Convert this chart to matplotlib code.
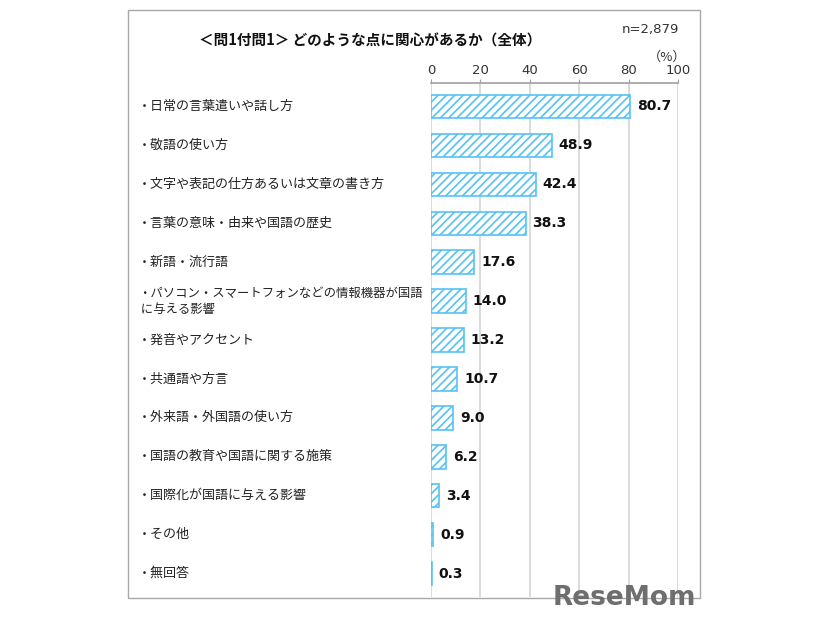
import matplotlib
matplotlib.use('Agg')
import matplotlib.pyplot as plt
import matplotlib.transforms as mtransforms
from matplotlib.patches import Rectangle

plt.rcParams['font.family'] = ['Noto Sans CJK JP', 'DejaVu Sans']
plt.rcParams['hatch.linewidth'] = 1.2

categories = [
    '・日常の言葉遣いや話し方',
    '・敬語の使い方',
    '・文字や表記の仕方あるいは文章の書き方',
    '・言葉の意味・由来や国語の歴史',
    '・新語・流行語',
    '・パソコン・スマートフォンなどの情報機器が国語\n に与える影響',
    '・発音やアクセント',
    '・共通語や方言',
    '・外来語・外国語の使い方',
    '・国語の教育や国語に関する施策',
    '・国際化が国語に与える影響',
    '・その他',
    '・無回答',
]
values = [80.7, 48.9, 42.4, 38.3, 17.6, 14.0, 13.2, 10.7, 9.0, 6.2, 3.4, 0.9, 0.3]
xticks = [0, 20, 40, 60, 80, 100]
title = '＜問1付問1＞ どのような点に関心があるか（全体）'
n_text = 'n=2,879'

BLUE = '#55C3F2'
GRID = '#D4D4D4'

fig = plt.figure(figsize=(8.26, 6.2), dpi=100, facecolor='white')
ax = fig.add_axes([0.5218, 0.0371, 0.299, 0.829])

y = list(range(len(values)))
ax.barh(y, values, height=0.6, color='white', edgecolor=BLUE, hatch='////',
        linewidth=1.2, zorder=3)
ax.set_ylim(len(values) - 0.4, -0.6)
ax.set_xlim(0, 100)

ax.xaxis.tick_top()
ax.set_xticks(xticks)
ax.tick_params(axis='x', length=3, color='#A0A0A0', labelsize=9.5, pad=1,
               labelcolor='#333333')
for t in ax.get_xticklabels():
    t.set_family('DejaVu Sans')
ax.set_yticks([])
ax.grid(axis='x', color=GRID, linewidth=1.2, zorder=0)
for s in ['right', 'bottom', 'left']:
    ax.spines[s].set_visible(False)
ax.spines['top'].set_color('#A0A0A0')
ax.spines['top'].set_linewidth(1.2)

trans = mtransforms.blended_transform_factory(fig.transFigure, ax.transData)
for yi, lab in zip(y, categories):
    fs = 8.9 if '\n' in lab else 9.4
    ax.text(0.167, yi, lab, transform=trans, ha='left', va='center',
            fontsize=fs, color='#222222', linespacing=1.3)

for yi, v in zip(y, values):
    ax.annotate(f'{v:.1f}', (v, yi), xytext=(5, 0), textcoords='offset points',
                ha='left', va='center', fontsize=10, fontweight='bold',
                color='#111111', family='DejaVu Sans')

fig.text(0.448, 0.935, title, ha='center', va='center', fontsize=10.5,
         color='#111111', fontweight='bold')
fig.text(0.787, 0.952, n_text, ha='center', va='center', fontsize=9.5,
         color='#333333', family='DejaVu Sans')
fig.text(0.808, 0.908, '（%）', ha='center', va='center', fontsize=9.5,
         color='#333333')

fig.patches.append(Rectangle((0.155, 0.0355), 0.6925, 0.948,
                             transform=fig.transFigure, fill=False,
                             edgecolor='#A8A8A8', linewidth=1.0))

fig.text(0.756, 0.036, 'ReseMom', ha='center', va='center', fontsize=19,
         fontweight='bold', color='#6E6E6E', family='DejaVu Sans')

fig.savefig('out.png', dpi=100, facecolor='white')
